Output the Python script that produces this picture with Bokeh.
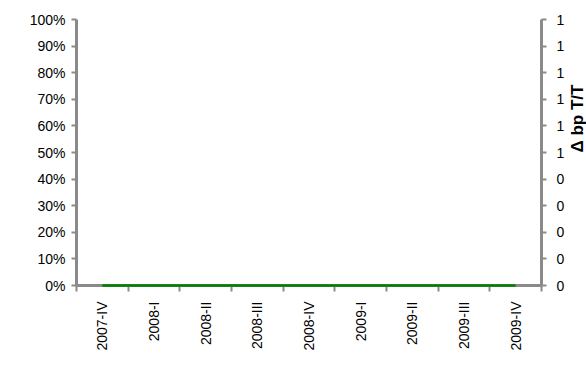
from bokeh.plotting import figure
from bokeh.models import FixedTicker, LinearAxis, Range1d
from bokeh.embed import file_html
from bokeh.resources import INLINE
import numpy as np

categories = ["2007-IV", "2008-I", "2008-II", "2008-III", "2008-IV",
              "2009-I", "2009-II", "2009-III", "2009-IV"]
series_values = [0, 0, 0, 0, 0, 0, 0, 0, 0]
left_ticks = [0.0, 0.1, 0.2, 0.3, 0.4, 0.5, 0.6, 0.7, 0.8, 0.9, 1.0]
left_tick_labels = ["0%", "10%", "20%", "30%", "40%", "50%", "60%", "70%", "80%", "90%", "100%"]
right_tick_labels = ["0", "0", "0", "0", "0", "1", "1", "1", "1", "1", "1"]
right_axis_title = "\u0394 bp T/T"

FONT = "Liberation Sans"
GRAY = "#8a8a8a"

n = len(categories)
centers = [i + 0.5 for i in range(n)]
bounds = [float(i) for i in range(n + 1)]

p = figure(output_backend="svg", toolbar_location=None,
           x_range=Range1d(0, n), y_range=Range1d(0, 1),
           frame_width=465, frame_height=266,
           min_border_left=76, min_border_right=10, min_border_top=19, min_border_bottom=10,
           x_axis_location=None, y_axis_location=None)
p.outline_line_color = None
p.grid.visible = False

p.line(centers, series_values, line_color="#008000", line_width=2.5, level="overlay")

# bottom axis
xa = LinearAxis(ticker=FixedTicker(ticks=centers, minor_ticks=bounds))
xa.major_label_overrides = {c: lab for c, lab in zip(centers, categories)}
xa.major_label_orientation = np.pi / 2
xa.major_tick_out = 0
xa.major_tick_in = 0
xa.minor_tick_out = 6
xa.minor_tick_in = 0
xa.minor_tick_line_color = GRAY
xa.minor_tick_line_width = 2
xa.axis_line_color = GRAY
xa.axis_line_width = 3
xa.major_label_text_font = FONT
xa.major_label_text_font_size = "14px"
xa.major_label_text_color = "#000000"
xa.major_label_standoff = 10
p.add_layout(xa, "below")

# left axis
ya = LinearAxis(ticker=FixedTicker(ticks=left_ticks, minor_ticks=[]))
ya.major_label_overrides = {t: lab for t, lab in zip(left_ticks, left_tick_labels)}
ya.major_tick_out = 5
ya.major_tick_in = 0
ya.major_tick_line_color = GRAY
ya.major_tick_line_width = 2
ya.axis_line_color = GRAY
ya.axis_line_width = 3
ya.major_label_text_font = FONT
ya.major_label_text_font_size = "14px"
ya.major_label_text_color = "#000000"
ya.major_label_standoff = 6
p.add_layout(ya, "left")

# right axis
ra = LinearAxis(ticker=FixedTicker(ticks=left_ticks, minor_ticks=[]))
ra.major_label_overrides = {t: lab for t, lab in zip(left_ticks, right_tick_labels)}
ra.major_tick_out = 5
ra.major_tick_in = 0
ra.major_tick_line_color = GRAY
ra.major_tick_line_width = 2
ra.axis_line_color = GRAY
ra.axis_line_width = 3
ra.major_label_text_font = FONT
ra.major_label_text_font_size = "14px"
ra.major_label_text_color = "#000000"
ra.major_label_standoff = 10
ra.axis_label = right_axis_title
ra.axis_label_orientation = np.pi / 2
ra.axis_label_text_font = FONT
ra.axis_label_text_font_size = "17px"
ra.axis_label_text_font_style = "bold"
ra.axis_label_text_color = "#000000"
ra.axis_label_standoff = 10
p.add_layout(ra, "right")

open("out.html", "w").write(file_html(p, INLINE))
